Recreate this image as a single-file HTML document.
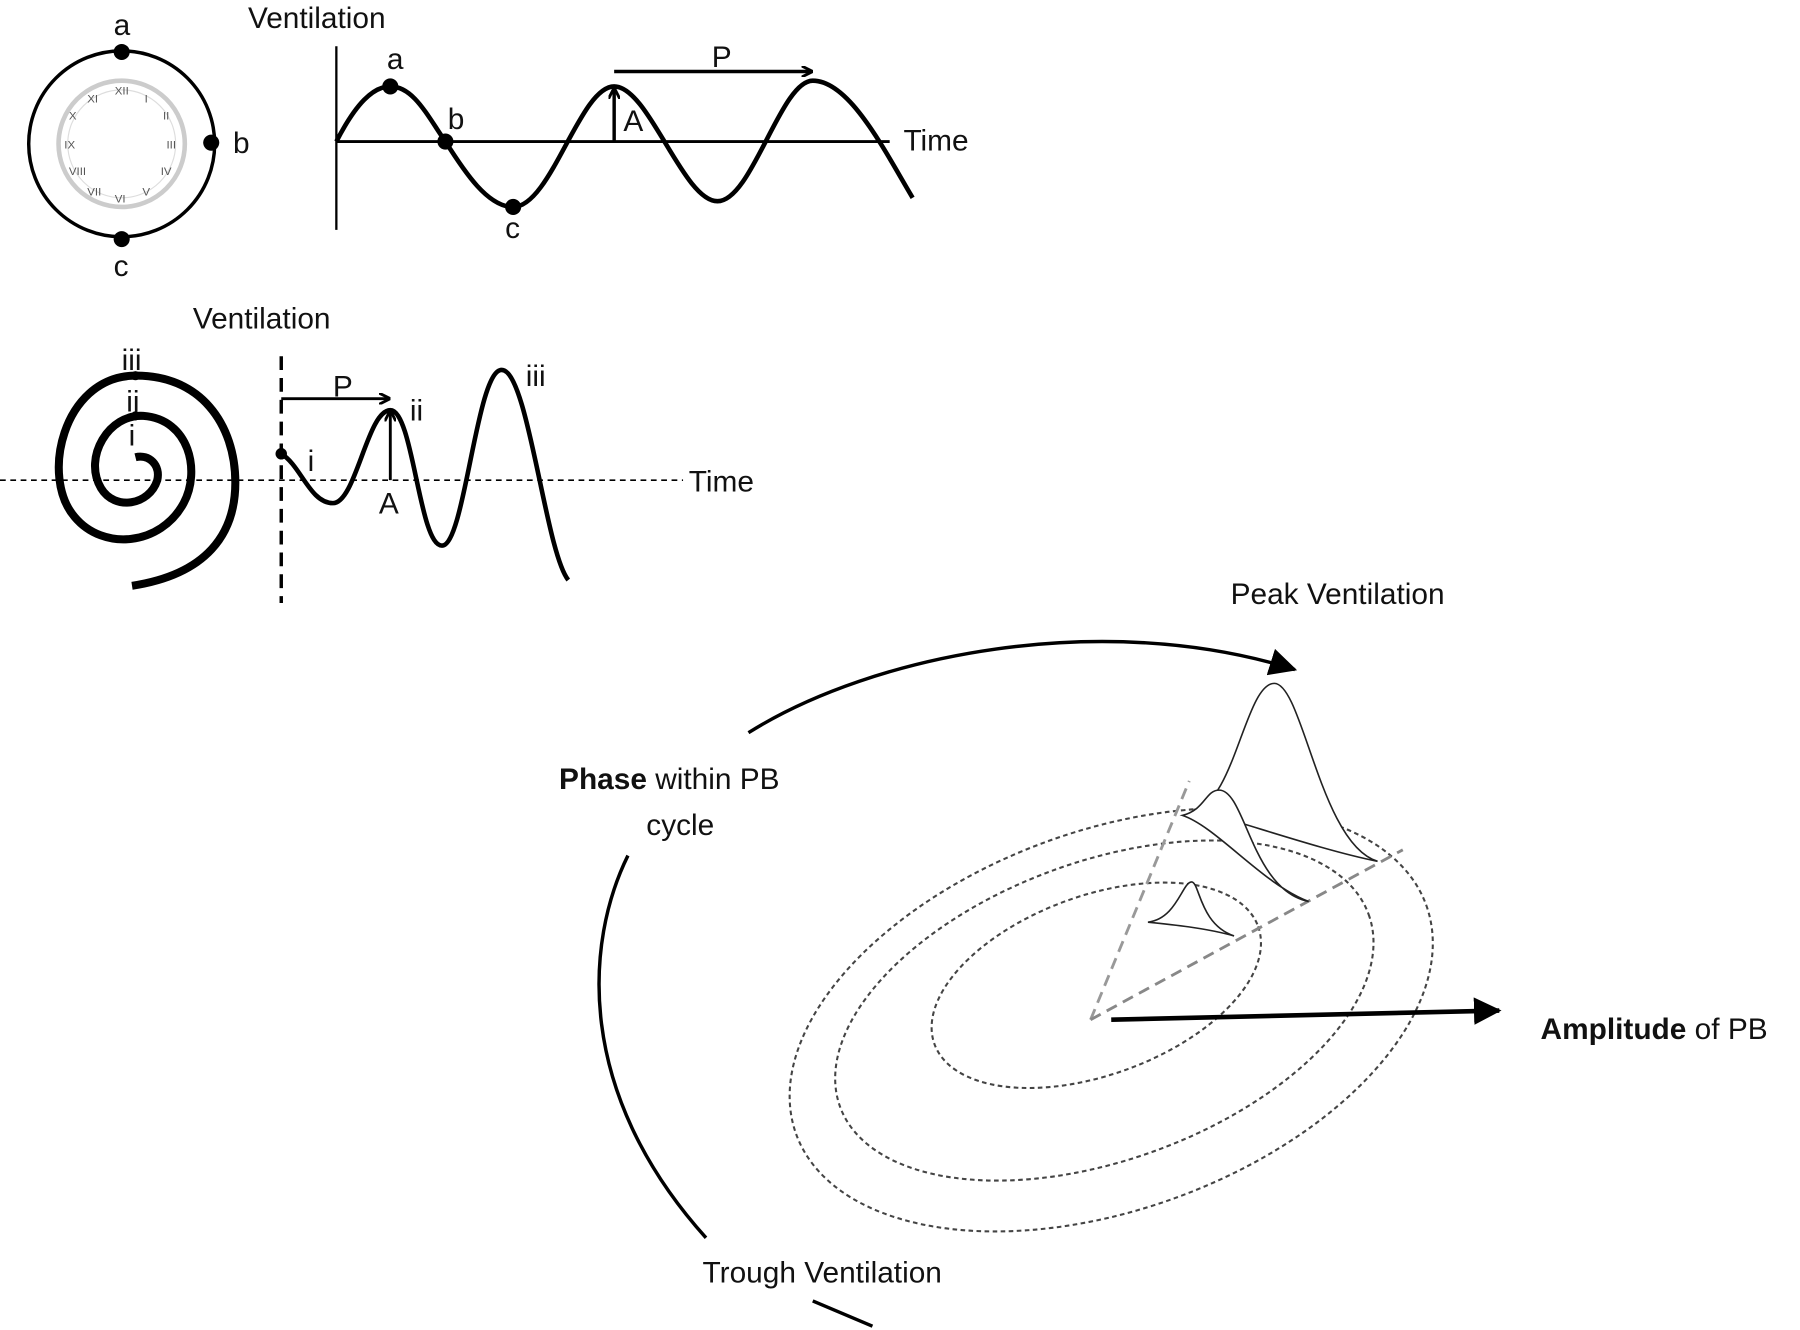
<!DOCTYPE html>
<html><head><meta charset="utf-8"><style>
html,body{margin:0;padding:0;background:#fff;}
svg{display:block}
text{font-family:"Liberation Sans",sans-serif;font-size:26px;fill:#111}
</style></head><body>
<svg width="1800" height="1330" viewBox="0 0 1568 1158" xmlns="http://www.w3.org/2000/svg">
<defs>
<marker id="ah" markerWidth="10" markerHeight="10" refX="8" refY="5" orient="auto" markerUnits="userSpaceOnUse"><path d="M0,0 L10,5 L0,10" fill="none" stroke="#000" stroke-width="2.5"/></marker>
<marker id="bh" markerWidth="28" markerHeight="24" refX="22" refY="12" orient="auto" markerUnits="userSpaceOnUse"><path d="M0,0 L24,12 L0,24 Z" fill="#000"/></marker>
</defs>
<circle cx="106" cy="125" r="81" fill="none" stroke="#000" stroke-width="3"/>
<circle cx="106" cy="125" r="55" fill="none" stroke="#ccc" stroke-width="4"/>
<circle cx="106" cy="125" r="47" fill="none" stroke="#ddd" stroke-width="1"/>
<g style="font-family:'Liberation Serif',serif" fill="#555">
<text x="100" y="82" style="font-size:10px;fill:#555">XII</text><text x="126" y="89" style="font-size:10px;fill:#555">I</text>
<text x="142" y="104" style="font-size:10px;fill:#555">II</text><text x="145" y="129" style="font-size:10px;fill:#555">III</text>
<text x="140" y="152" style="font-size:10px;fill:#555">IV</text><text x="124" y="170" style="font-size:10px;fill:#555">V</text>
<text x="100" y="176" style="font-size:10px;fill:#555">VI</text><text x="76" y="170" style="font-size:10px;fill:#555">VII</text>
<text x="60" y="152" style="font-size:10px;fill:#555">VIII</text><text x="56" y="129" style="font-size:10px;fill:#555">IX</text>
<text x="60" y="104" style="font-size:10px;fill:#555">X</text><text x="76" y="89" style="font-size:10px;fill:#555">XI</text>
</g>
<circle cx="106" cy="45" r="7"/><circle cx="184" cy="124" r="7"/><circle cx="106" cy="208" r="7"/>
<text x="99" y="30">a</text><text x="203" y="133">b</text><text x="99" y="240">c</text>
<text x="216" y="24">Ventilation</text>
<line x1="293" y1="40" x2="293" y2="200" stroke="#000" stroke-width="2"/>
<line x1="293" y1="123" x2="775" y2="123" stroke="#000" stroke-width="2.5"/>
<text x="787" y="131">Time</text>
<path d="M293,123 C310,90 325,75 340,75 C360,75 372,100 388,123 C405,150 425,180 447,180 C480,180 505,75 535,75 C565,75 595,175 625,175 C655,175 680,70 708,70 C740,70 770,130 795,172" fill="none" stroke="#000" stroke-width="4"/>
<circle cx="340" cy="75" r="7"/><circle cx="388" cy="123" r="7"/><circle cx="447" cy="180" r="7"/>
<text x="337" y="60">a</text><text x="390" y="112">b</text><text x="440" y="207">c</text>
<line x1="535" y1="62" x2="706" y2="62" stroke="#000" stroke-width="3" marker-end="url(#ah)"/>
<text x="620" y="58">P</text>
<line x1="535" y1="123" x2="535" y2="78" stroke="#000" stroke-width="3" marker-end="url(#ah)"/>
<text x="543" y="114">A</text>
<text x="168" y="286">Ventilation</text>
<line x1="0" y1="418" x2="595" y2="418" stroke="#000" stroke-width="1.5" stroke-dasharray="5,4"/>
<text x="600" y="428">Time</text>
<line x1="245" y1="310" x2="245" y2="525" stroke="#000" stroke-width="3" stroke-dasharray="12,7"/>
<path d="M118,398 C130,395 140,405 137,418 C130,440 100,445 88,425 C72,398 95,360 125,362 C165,365 175,410 160,438 C140,475 90,480 65,450 C35,415 55,330 115,327 C175,325 205,370 205,420 C205,465 180,500 115,510" fill="none" stroke="#000" stroke-width="7"/>
<circle cx="118" cy="327" r="4"/><circle cx="118" cy="362" r="4"/>
<text x="106" y="322">iii</text><text x="110" y="358">ii</text><text x="112" y="388">i</text>
<path d="M245,395 C262,405 270,438 290,438 C310,438 320,357 340,357 C360,357 365,475 385,475 C405,475 415,322 437,322 C460,322 475,480 495,505" fill="none" stroke="#000" stroke-width="4"/>
<circle cx="245" cy="395" r="5"/>
<line x1="245" y1="347" x2="338" y2="347" stroke="#000" stroke-width="2.5" marker-end="url(#ah)"/>
<text x="290" y="345">P</text>
<line x1="340" y1="418" x2="340" y2="359" stroke="#000" stroke-width="2.5" marker-end="url(#ah)"/>
<text x="330" y="447">A</text><text x="268" y="410">i</text><text x="357" y="366">ii</text><text x="458" y="336">iii</text>
<text x="1072" y="526">Peak Ventilation</text>
<text x="487" y="687"><tspan font-weight="bold">Phase</tspan> within PB</text>
<text x="563" y="727">cycle</text>
<text x="612" y="1117">Trough Ventilation</text>
<text x="1342" y="905"><tspan font-weight="bold">Amplitude</tspan> of PB</text>
<path d="M652,638 C760,570 960,530 1128,583" fill="none" stroke="#000" stroke-width="3" marker-end="url(#bh)"/>
<path d="M547,745 C510,820 500,950 615,1078" fill="none" stroke="#000" stroke-width="3"/>
<path d="M708,1133 L760,1155" stroke="#000" stroke-width="3"/>
<g fill="none" stroke="#444" stroke-width="1.8" stroke-dasharray="4,3">
<ellipse cx="955" cy="858" rx="150" ry="78" transform="rotate(-20 955 858)"/>
<ellipse cx="962" cy="880" rx="245" ry="130" transform="rotate(-20 962 880)"/>
<ellipse cx="968" cy="888" rx="292" ry="165" transform="rotate(-20 968 888)"/>
</g>
<line x1="950" y1="888" x2="1036" y2="680" stroke="#999" stroke-width="2.5" stroke-dasharray="10,6"/>
<line x1="950" y1="888" x2="1222" y2="740" stroke="#888" stroke-width="2.5" stroke-dasharray="10,6"/>
<line x1="968" y1="888" x2="1306" y2="880" stroke="#000" stroke-width="4" marker-end="url(#bh)"/>
<g fill="#fff" stroke="#222" stroke-width="1.4">
<path d="M1040,705 C1075,700 1085,595 1110,595 C1135,595 1150,735 1200,750 C1150,740 1080,715 1040,705 Z"/>
<path d="M1030,710 C1050,705 1050,688 1062,688 C1085,688 1090,775 1140,785 C1100,770 1060,720 1030,710 Z"/>
<path d="M1000,803 C1025,800 1030,768 1038,768 C1045,768 1045,805 1075,815 C1050,808 1020,805 1000,803 Z"/>
</g>
</svg>
</body></html>
